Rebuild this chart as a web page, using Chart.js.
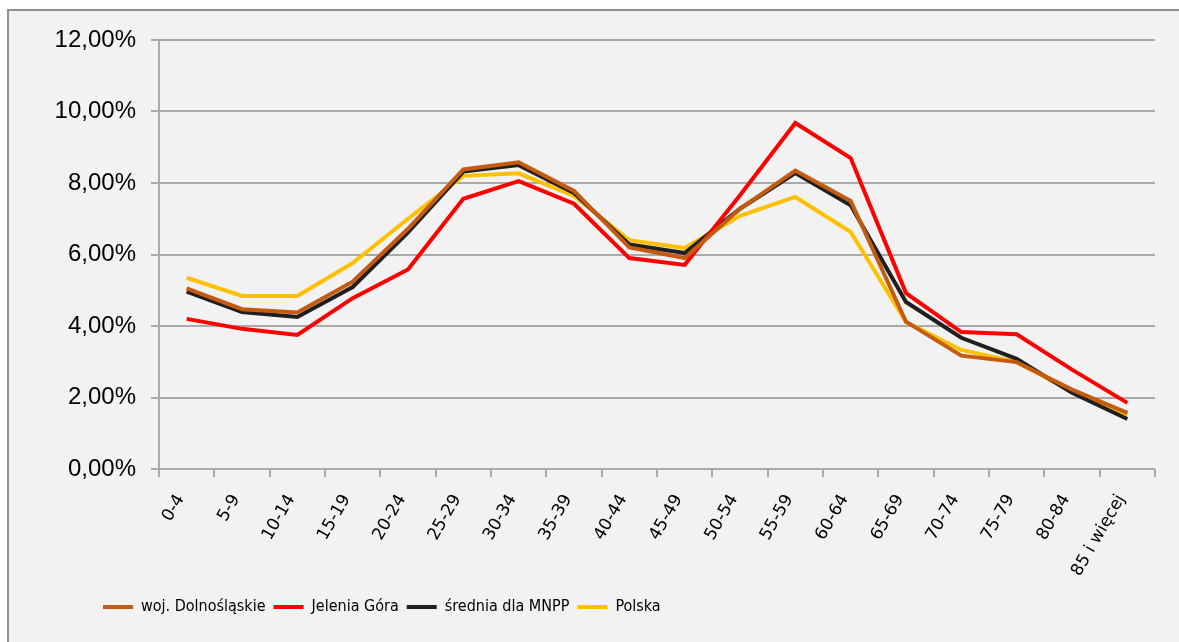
<!DOCTYPE html>
<html>
<head>
<meta charset="utf-8">
<script src="https://cdn.jsdelivr.net/npm/chart.js@4.4.0/dist/chart.umd.min.js"></script>
<style>
    html, body { margin: 0; padding: 0; background: #fff; }
    #wrap { width: 1179px; height: 642px; }
</style>
</head>
<body>
<div id="wrap"><canvas id="age-chart" width="1179" height="642"></canvas></div>
<script>
const ageGroups = ['0-4', '5-9', '10-14', '15-19', '20-24', '25-29', '30-34', '35-39', '40-44',
    '45-49', '50-54', '55-59', '60-64', '65-69', '70-74', '75-79', '80-84', '85 i więcej']

const dolnoslaskie = [5.05, 4.47, 4.38, 5.24, 6.72, 8.38, 8.58, 7.78, 6.20, 5.90, 7.28, 8.35, 7.50, 4.12, 3.17, 2.99, 2.22, 1.57]
const jeleniaGora = [4.20, 3.92, 3.75, 4.78, 5.58, 7.56, 8.05, 7.42, 5.90, 5.71, 7.66, 9.68, 8.70, 4.92, 3.83, 3.77, 2.78, 1.85]
const srednia = [4.96, 4.39, 4.25, 5.09, 6.62, 8.32, 8.50, 7.72, 6.28, 6.04, 7.28, 8.28, 7.38, 4.67, 3.67, 3.08, 2.13, 1.40]
const polska = [5.35, 4.84, 4.84, 5.76, 7.00, 8.20, 8.27, 7.64, 6.40, 6.18, 7.08, 7.61, 6.63, 4.11, 3.33, 2.99, 2.16, 1.51]

const yTicks = [0, 2, 4, 6, 8, 10, 12]

// tło i ramka jak w Excelu
const frame = {
    id: 'frame',
    beforeDraw(chart) {
        const ctx = chart.ctx
        ctx.save()
        ctx.fillStyle = '#ffffff'
        ctx.fillRect(0, 0, chart.width, chart.height)
        ctx.fillStyle = '#f2f2f2'
        ctx.fillRect(8, 9, chart.width - 8, chart.height - 9)
        ctx.strokeStyle = '#8f8f8f'
        ctx.lineWidth = 2
        ctx.beginPath()
        ctx.moveTo(8, chart.height)
        ctx.lineTo(8, 10)
        ctx.lineTo(chart.width, 10)
        ctx.stroke()
        ctx.restore()
    }
}

// legenda przesunięta w prawo, pod wykres
const legendShift = {
    id: 'legendShift',
    afterLayout(chart) {
        chart.legend.left = 95
    }
}

function makeSet(label, data, color) {
    return {
        label,
        data,
        borderColor: color,
        backgroundColor: color,
        borderWidth: 4,
        pointRadius: 0,
        tension: 0
    }
}

new Chart(document.querySelector('#age-chart'), {
    type: 'line',
    data: {
        labels: ageGroups,
        datasets: [
            makeSet('woj. Dolnośląskie', dolnoslaskie, '#c55a11'),
            makeSet('Jelenia Góra', jeleniaGora, '#ff0000'),
            makeSet('średnia dla MNPP', srednia, '#1f1f1f'),
            makeSet('Polska', polska, '#ffc000')
        ]
    },
    plugins: [frame, legendShift],
    options: {
        responsive: false,
        animation: false,
        layout: { padding: { left: 45, right: 24, top: 40, bottom: 17 } },
        plugins: {
            tooltip: { enabled: false },
            legend: {
                position: 'bottom',
                align: 'start',
                labels: {
                    usePointStyle: true,
                    pointStyle: 'line',
                    pointStyleWidth: 30,
                    padding: 8,
                    color: '#000',
                    font: { family: '"DejaVu Sans Condensed", "DejaVu Sans", sans-serif', size: 16 }
                }
            }
        },
        scales: {
            x: {
                offset: true,
                afterFit: scale => { scale.height = 122 },
                grid: {
                    offset: true,
                    drawOnChartArea: false,
                    drawTicks: true,
                    tickLength: 8,
                    color: '#aaaaaa',
                    lineWidth: 2
                },
                border: { display: false },
                ticks: {
                    autoSkip: false,
                    minRotation: 60,
                    maxRotation: 60,
                    padding: 14,
                    labelOffset: -6,
                    color: '#000',
                    font: { family: '"DejaVu Sans", sans-serif', size: 17 }
                }
            },
            y: {
                min: 0,
                max: 12,
                afterFit: scale => { scale.width = 114 },
                afterBuildTicks: scale => { scale.ticks = yTicks.map(v => ({ value: v })) },
                grid: {
                    color: '#aaaaaa',
                    lineWidth: 2,
                    tickLength: 8
                },
                border: { display: true, color: '#aaaaaa', width: 2 },
                ticks: {
                    padding: 15,
                    color: '#000',
                    font: { family: '"Liberation Sans", sans-serif', size: 24 },
                    callback: value => value.toFixed(2).replace('.', ',') + '%'
                }
            }
        }
    }
})
</script>
</body>
</html>
